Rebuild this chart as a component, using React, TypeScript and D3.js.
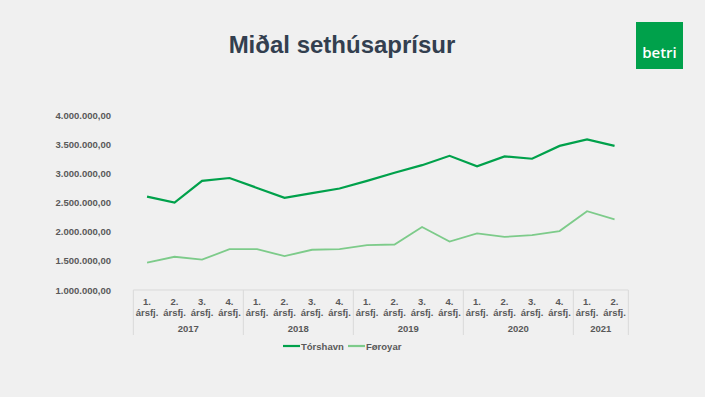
import { useEffect, useRef } from 'react'
import * as d3 from 'd3'

const years = ['2017', '2018', '2019', '2020', '2021']
const quartersPerYear = [4, 4, 4, 4, 2]
const quarterLabels = ['1.', '2.', '3.', '4.']
const torshavn = [2.60, 2.50, 2.87, 2.92, 2.75, 2.58, 2.66, 2.74, 2.87, 3.01, 3.14, 3.30, 3.12, 3.29, 3.25, 3.47, 3.58, 3.47].map(v => v * 1e6)
const foroyar = [1.47, 1.57, 1.52, 1.70, 1.70, 1.58, 1.69, 1.70, 1.77, 1.78, 2.08, 1.83, 1.97, 1.91, 1.94, 2.01, 2.35, 2.21].map(v => v * 1e6)
const yTicks = [1e6, 1.5e6, 2e6, 2.5e6, 3e6, 3.5e6, 4e6]

const fmt = (v: number) => d3.format(',.2f')(v).replace(/,/g, 'X').replace('.', ',').replace(/X/g, '.')

function App() {
  const svgRef = useRef<SVGSVGElement>(null)

  useEffect(() => {
    document.body.style.margin = '0'
    const width = 705
    const height = 397
    const font = '"Liberation Sans", Arial, sans-serif'

    const svg = d3.select(svgRef.current)
    svg.selectAll('*').remove()
    svg.attr('width', width).attr('height', height)

    svg.append('rect').attr('width', width).attr('height', height).attr('fill', '#f0f0f0')

    // title
    svg.append('text')
      .attr('x', 342).attr('y', 53)
      .attr('text-anchor', 'middle')
      .attr('font-family', font).attr('font-weight', 'bold').attr('font-size', '24px')
      .attr('fill', '#333f4f')
      .text('Miðal sethúsaprísur')

    // logo
    svg.append('rect').attr('x', 636).attr('y', 22).attr('width', 47).attr('height', 47).attr('fill', '#00a14b')
    svg.append('text')
      .attr('x', 659.5).attr('y', 58)
      .attr('text-anchor', 'middle')
      .attr('font-family', '"Open Sans", sans-serif').attr('font-size', '15px').attr('font-weight', 600)
      .attr('fill', '#ffffff')
      .text('betri')

    const quarters: { q: string, yi: number }[] = []
    years.forEach((yr, yi) => {
      for (let i = 0; i < quartersPerYear[yi]; i++) quarters.push({ q: quarterLabels[i], yi })
    })
    const idx = quarters.map((_, i) => i)

    const x = d3.scaleBand<number>().domain(idx).range([133.3, 628.3])
    const y = d3.scaleLinear().domain([1e6, 4e6]).range([290, 115])

    // y labels
    svg.append('g').selectAll('text').data(yTicks).join('text')
      .attr('x', 111).attr('y', d => y(d) + 3.5)
      .attr('text-anchor', 'end')
      .attr('font-family', font).attr('font-weight', 'bold').attr('font-size', '9.5px')
      .attr('fill', '#595959')
      .text(d => fmt(d))

    // category axis box
    const axisTop = y(1e6)
    const axisBottom = 335
    const grid = '#d9d9d9'
    svg.append('line')
      .attr('x1', x(0)!).attr('x2', x(idx.length - 1)! + x.bandwidth())
      .attr('y1', axisTop).attr('y2', axisTop)
      .attr('stroke', grid)
    let start = 0
    const bounds = [0]
    quartersPerYear.forEach(n => { start += n; bounds.push(start) })
    bounds.forEach(b => {
      const xx = b < idx.length ? x(b)! : x(idx.length - 1)! + x.bandwidth()
      svg.append('line')
        .attr('x1', xx).attr('x2', xx)
        .attr('y1', axisTop).attr('y2', axisBottom)
        .attr('stroke', grid)
    })

    const labels = svg.append('g')
      .attr('font-family', font).attr('font-weight', 'bold').attr('font-size', '9.5px')
      .attr('fill', '#595959').attr('text-anchor', 'middle')
    quarters.forEach((d, i) => {
      const cx = x(i)! + x.bandwidth() / 2
      labels.append('text').attr('x', cx).attr('y', 305).text(d.q)
      labels.append('text').attr('x', cx).attr('y', 316).text('ársfj.')
    })
    years.forEach((yr, yi) => {
      const x0 = x(bounds[yi])!
      const x1 = x(bounds[yi + 1] - 1)! + x.bandwidth()
      labels.append('text').attr('x', (x0 + x1) / 2).attr('y', 332).text(yr)
    })

    const line = d3.line<number>()
      .x((_, i) => x(i)! + x.bandwidth() / 2)
      .y(d => y(d))

    svg.append('path').datum(foroyar)
      .attr('d', line).attr('fill', 'none')
      .attr('stroke', '#7dcb8a').attr('stroke-width', 1.8)
    svg.append('path').datum(torshavn)
      .attr('d', line).attr('fill', 'none')
      .attr('stroke', '#00a14b').attr('stroke-width', 2.2)

    // legend
    const legend = [
      { name: 'Tórshavn', color: '#00a14b', x: 283 },
      { name: 'Føroyar', color: '#7dcb8a', x: 348 },
    ]
    legend.forEach(l => {
      svg.append('line')
        .attr('x1', l.x).attr('x2', l.x + 17)
        .attr('y1', 346).attr('y2', 346)
        .attr('stroke', l.color).attr('stroke-width', 2.2)
      svg.append('text')
        .attr('x', l.x + 18).attr('y', 349.5)
        .attr('font-family', font).attr('font-weight', 'bold').attr('font-size', '9.5px')
        .attr('fill', '#595959')
        .text(l.name)
    })
  }, [])

  return <svg ref={svgRef} style={{ display: 'block' }} />
}

export default App
